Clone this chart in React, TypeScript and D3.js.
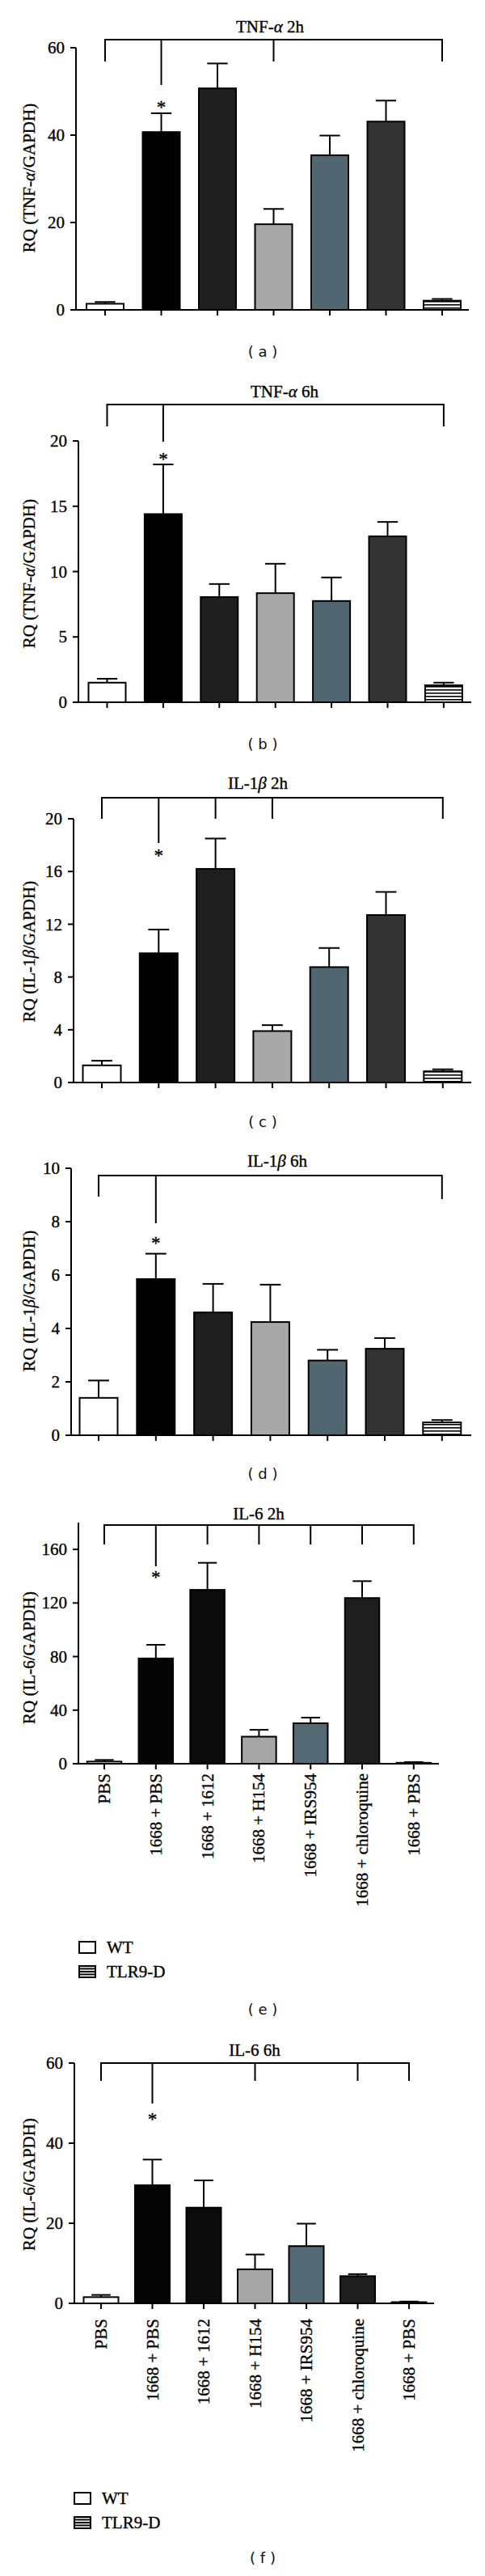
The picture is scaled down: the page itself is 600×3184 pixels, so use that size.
import React from "react";
import * as d3 from "d3";

// ---------- DATA ----------
const categories = ["PBS", "1668 + PBS", "1668 + 1612", "1668 + H154", "1668 + IRS954", "1668 + chloroquine", "1668 + PBS"];

const tnf2hMean = [1.4, 40.7, 50.7, 19.6, 35.4, 43.1, 2.1];
const tnf2hErr = [0.4, 4.3, 5.7, 3.5, 4.5, 4.8, 0.4];
const tnf2hTicks = [0, 20, 40, 60];

const tnf6hMean = [1.5, 14.4, 8.05, 8.35, 7.75, 12.7, 1.3];
const tnf6hErr = [0.3, 3.8, 1.0, 2.25, 1.8, 1.1, 0.2];
const tnf6hTicks = [0, 5, 10, 15, 20];

const il1b2hMean = [1.3, 9.8, 16.2, 3.9, 8.75, 12.7, 0.85];
const il1b2hErr = [0.35, 1.8, 2.3, 0.45, 1.45, 1.75, 0.15];
const il1b2hTicks = [0, 4, 8, 12, 16, 20];

const il1b6hMean = [1.4, 5.85, 4.6, 4.24, 2.8, 3.24, 0.48];
const il1b6hErr = [0.65, 0.95, 1.07, 1.4, 0.4, 0.4, 0.09];
const il1b6hTicks = [0, 2, 4, 6, 8, 10];

const il62hMean = [1.6, 78.6, 129.8, 20.2, 30.2, 123.7, 0.7];
const il62hErr = [1.2, 10.2, 20.2, 5.1, 4.2, 12.6, 0.5];
const il62hTicks = [0, 40, 80, 120, 160];

const il66hMean = [1.55, 29.5, 23.9, 8.5, 14.3, 6.8, 0.3];
const il66hErr = [0.55, 6.4, 6.8, 3.7, 5.6, 0.5, 0.15];
const il66hTicks = [0, 20, 40, 60];

const colorsTop = ["#ffffff", "#000000", "#1f1f1f", "#a8a8a8", "#506670", "#333333", "url(#stripes)"];
const colorsBottom = ["#ffffff", "#050505", "#0b0b0b", "#a6a6a6", "#536973", "#1e1e1e", "url(#stripes)"];

const legendLabels = ["WT", "TLR9-D"];
const panelLetters = ["a", "b", "c", "d", "e", "f"];

// ---------- LAYOUT ----------
const SERIF = "'Liberation Serif', 'DejaVu Serif', serif";
const SANS = "'DejaVu Sans', Verdana, sans-serif";
const FS = 21;
const serif = (size: number): React.CSSProperties => ({
  fontFamily: SERIF,
  fontSize: `${size}px`,
  stroke: "#000",
  strokeWidth: 0.35,
});

type Panel = {
  title: [string, string, string];
  ylab: [string, string, string];
  mean: number[];
  err: number[];
  ticks: number[];
  dmax: number;
  colors: string[];
  axisX: number;
  xStart: number;
  xEnd: number;
  y0: number;
  yMax: number;
  center0: number;
  step: number;
  barW: number;
  bracketY: number;
  drops: [number, number][];
  titleX: number;
  titleY: number;
  ylabY: number;
  starY: number;
  letterY: number;
  xLabelsY?: number;
  legendY?: number;
  legendX?: number;
};

const panels: Panel[] = [
  {
    title: ["TNF-", "α", " 2h"], ylab: ["RQ (TNF-", "α", "/GAPDH)"],
    mean: tnf2hMean, err: tnf2hErr, ticks: tnf2hTicks, dmax: 60, colors: colorsTop,
    axisX: 94, xStart: 94, xEnd: 580, y0: 383, yMax: 59,
    center0: 130, step: 69.5, barW: 46,
    bracketY: 49, drops: [[0, 76], [1, 105], [3, 76], [6, 76]],
    titleX: 334, titleY: 40, ylabY: 220, starY: 128, letterY: 435,
  },
  {
    title: ["TNF-", "α", " 6h"], ylab: ["RQ (TNF-", "α", "/GAPDH)"],
    mean: tnf6hMean, err: tnf6hErr, ticks: tnf6hTicks, dmax: 20, colors: colorsTop,
    axisX: 97, xStart: 92, xEnd: 583, y0: 868, yMax: 545,
    center0: 132.5, step: 69.4, barW: 46,
    bracketY: 500, drops: [[0, 527], [1, 546], [6, 527]],
    titleX: 352, titleY: 491, ylabY: 709, starY: 563, letterY: 920,
  },
  {
    title: ["IL-1", "β", " 2h"], ylab: ["RQ (IL-1", "β", "/GAPDH)"],
    mean: il1b2hMean, err: il1b2hErr, ticks: il1b2hTicks, dmax: 20, colors: colorsTop,
    axisX: 91, xStart: 85, xEnd: 583, y0: 1338, yMax: 1012,
    center0: 126, step: 70.3, barW: 47,
    bracketY: 986, drops: [[0, 1012], [1, 1042], [2, 1012], [3, 1012], [6, 1012]],
    titleX: 319, titleY: 975, ylabY: 1176, starY: 1053, letterY: 1387,
  },
  {
    title: ["IL-1", "β", " 6h"], ylab: ["RQ (IL-1", "β", "/GAPDH)"],
    mean: il1b6hMean, err: il1b6hErr, ticks: il1b6hTicks, dmax: 10, colors: colorsTop,
    axisX: 88, xStart: 82, xEnd: 583, y0: 1774, yMax: 1444,
    center0: 122, step: 70.8, barW: 47,
    bracketY: 1453, drops: [[0, 1479], [1, 1512], [6, 1482]],
    titleX: 343, titleY: 1442, ylabY: 1608, starY: 1532, letterY: 1822,
  },
  {
    title: ["IL-6 2h", "", ""], ylab: ["RQ (IL-6/GAPDH)", "", ""],
    mean: il62hMean, err: il62hErr, ticks: il62hTicks, dmax: 180, colors: colorsBottom,
    axisX: 97, xStart: 92, xEnd: 543, y0: 2180, yMax: 1882,
    center0: 129, step: 63.8, barW: 42.5,
    bracketY: 1885, drops: [[0, 1909], [1, 1936], [2, 1909], [3, 1909], [4, 1909], [5, 1909], [6, 1909]],
    titleX: 320, titleY: 1878, ylabY: 2049, starY: 1945, letterY: 2484,
    xLabelsY: 2192, legendY: 2399, legendX: 97,
  },
  {
    title: ["IL-6 6h", "", ""], ylab: ["RQ (IL-6/GAPDH)", "", ""],
    mean: il66hMean, err: il66hErr, ticks: il66hTicks, dmax: 60, colors: colorsBottom,
    axisX: 92, xStart: 88, xEnd: 537, y0: 2847, yMax: 2550,
    center0: 125, step: 63.5, barW: 43,
    bracketY: 2550, drops: [[0, 2572], [1, 2600], [3, 2572], [5, 2572], [6, 2572]],
    titleX: 315, titleY: 2541, ylabY: 2700, starY: 2615, letterY: 3162,
    xLabelsY: 2866, legendY: 3080, legendX: 91,
  },
];

function PanelView({ p, letter }: { p: Panel; letter: string }) {
  const idx = categories.map((_, i) => i);
  const x = d3
    .scaleBand<number>()
    .domain(idx)
    .range([p.center0 - p.step / 2, p.center0 - p.step / 2 + p.step * idx.length])
    .paddingInner(1 - p.barW / p.step)
    .paddingOuter((1 - p.barW / p.step) / 2);
  const y = d3.scaleLinear().domain([0, p.dmax]).range([p.y0, p.yMax]);
  const cx = (i: number) => (x(i) as number) + x.bandwidth() / 2;
  const capW = x.bandwidth() * 0.55;
  const lw = 2;

  const brStart = cx(p.drops[0][0]);
  const brEnd = cx(p.drops[p.drops.length - 1][0]);

  return (
    <g>
      <text x={p.titleX} y={p.titleY} textAnchor="middle" style={serif(FS)}>
        {p.title[0]}
        {p.title[1] && <tspan style={{ fontStyle: "italic" }}>{p.title[1]}</tspan>}
        {p.title[2]}
      </text>
      <line x1={brStart} x2={brEnd} y1={p.bracketY} y2={p.bracketY} stroke="#000" strokeWidth={lw} />
      {p.drops.map(([i, yEnd], k) => (
        <line key={k} x1={cx(i)} x2={cx(i)} y1={p.bracketY - 1} y2={yEnd} stroke="#000" strokeWidth={lw} />
      ))}
      <text x={cx(1)} y={p.starY + 12} textAnchor="middle" fill="#000" style={serif(FS + 2)}>*</text>
      {p.mean.map((m, i) => (
        <g key={i}>
          <line x1={cx(i)} x2={cx(i)} y1={y(m)} y2={y(m + p.err[i])} stroke="#000" strokeWidth={lw} />
          <line x1={cx(i) - capW / 2} x2={cx(i) + capW / 2} y1={y(m + p.err[i])} y2={y(m + p.err[i])} stroke="#000" strokeWidth={lw} />
          <rect x={x(i)} y={y(m)} width={x.bandwidth()} height={p.y0 - y(m)} fill={p.colors[i]} stroke="#000" strokeWidth={lw} />
        </g>
      ))}
      <line x1={p.axisX} x2={p.axisX} y1={p.y0} y2={p.yMax} stroke="#000" strokeWidth={lw} />
      {p.ticks.map((t) => (
        <g key={t}>
          <line x1={p.axisX - 7} x2={p.axisX} y1={y(t)} y2={y(t)} stroke="#000" strokeWidth={lw} />
          <text x={p.axisX - 14} y={y(t)} dy="0.34em" textAnchor="end" style={serif(FS)}>{t}</text>
        </g>
      ))}
      <line x1={p.xStart} x2={p.xEnd} y1={p.y0} y2={p.y0} stroke="#000" strokeWidth={lw} />
      {idx.map((i) => (
        <line key={i} x1={cx(i)} x2={cx(i)} y1={p.y0} y2={p.y0 + 7} stroke="#000" strokeWidth={lw} />
      ))}
      <text transform={`translate(43,${p.ylabY}) rotate(-90)`} textAnchor="middle" style={serif(FS)}>
        {p.ylab[0]}
        {p.ylab[1] && <tspan style={{ fontStyle: "italic" }}>{p.ylab[1]}</tspan>}
        {p.ylab[2]}
      </text>
      {p.xLabelsY !== undefined &&
        categories.map((c, i) => (
          <text key={i} transform={`translate(${cx(i) + 7},${p.xLabelsY}) rotate(-90)`} textAnchor="end" style={serif(FS)}>
            {c}
          </text>
        ))}
      {p.legendY !== undefined &&
        legendLabels.map((l, k) => (
          <g key={l} transform={`translate(${p.legendX},${p.legendY + k * 30})`}>
            <rect x={1} y={1} width={20} height={14} fill={k === 0 ? "#fff" : "url(#stripesLegend)"} stroke="#000" strokeWidth={2} />
            <text x={35} y={8} dy="0.34em" style={serif(FS)}>{l}</text>
          </g>
        ))}
      <text x={325} y={p.letterY} dy="0.35em" textAnchor="middle" fill="#111" style={{ fontFamily: SANS, fontSize: "18px" }}>
        {`( ${letter} )`}
      </text>
    </g>
  );
}

export default function App() {
  return (
    <svg
      width={600}
      height={3184}
      style={{ position: "absolute", left: 0, top: 0, display: "block", background: "#fff" }}
    >
      <defs>
        <pattern id="stripes" patternUnits="userSpaceOnUse" width={8} height={4}>
          <rect width={8} height={4} fill="#fff" />
          <rect y={0} width={8} height={1.6} fill="#000" />
        </pattern>
        <pattern id="stripesLegend" patternUnits="userSpaceOnUse" width={8} height={3.5}>
          <rect width={8} height={3.5} fill="#fff" />
          <rect y={0} width={8} height={2} fill="#000" />
        </pattern>
      </defs>
      <rect width={600} height={3184} fill="#fff" />
      {panels.map((p, k) => (
        <PanelView key={k} p={p} letter={panelLetters[k]} />
      ))}
    </svg>
  );
}
